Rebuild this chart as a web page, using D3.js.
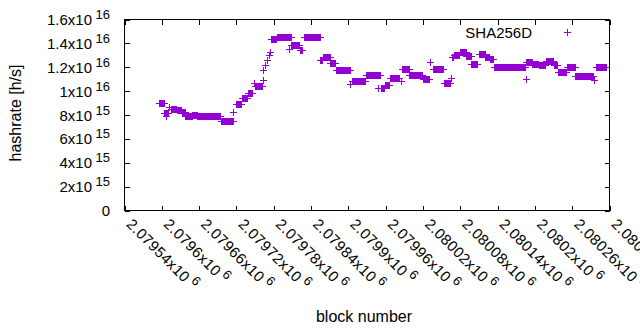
<!DOCTYPE html>
<html><head><meta charset="utf-8">
<script src="https://cdn.jsdelivr.net/npm/d3@7/dist/d3.min.js"></script>
<style>
body{margin:0;background:#fff;}
svg{display:block;}
text{font-family:"Liberation Sans",Arial,Helvetica,sans-serif;fill:#000;}
</style>
</head><body>
<svg id="chart" width="640" height="330"></svg>
<script>
// ---- data (hashrate in units of 1e15 h/s, constant over block runs) ----
const seriesName = "SHA256D";
const runStart = [2079595,2079604,2079607,2079612,2079614,2079624,2079632,2079638,2079644,2079649,2079657,2079695,2079715,2079720,2079729,2079738,2079749,2079750,2079762,2079763,2079766,2079769,2079772,2079774,2079775,2079785,2079792,2079804,2079808,2079822,2079828,2079855,2079860,2079871,2079880,2079903,2079906,2079928,2079948,2079952,2079959,2079967,2079984,2079986,2079998,2080020,2080032,2080036,2080054,2080065,2080066,2080070,2080079,2080090,2080098,2080110,2080120,2080128,2080135,2080147,2080185,2080186,2080196,2080206,2080218,2080230,2080237,2080252,2080265,2080295,2080299];
const runEnd   = [2079603,2079610,2079607,2079612,2079623,2079631,2079637,2079643,2079648,2079656,2079693,2079714,2079715,2079728,2079737,2079745,2079749,2079761,2079762,2079763,2079766,2079769,2079772,2079774,2079784,2079791,2079807,2079804,2079821,2079826,2079854,2079858,2079870,2079879,2079902,2079903,2079927,2079951,2079948,2079958,2079966,2079982,2079984,2079997,2080019,2080029,2080032,2080053,2080063,2080065,2080069,2080078,2080089,2080097,2080107,2080119,2080127,2080133,2080146,2080184,2080185,2080195,2080205,2080217,2080229,2080235,2080250,2080264,2080294,2080295,2080314];
const runValue = [8.98,8.13,7.9,8.67,8.53,8.39,8.21,7.93,7.89,8.03,7.89,7.48,8.25,8.92,9.39,9.81,10.69,10.46,10.92,11.75,12.17,12.58,13.0,13.25,14.39,14.52,14.56,13.5,13.86,13.44,14.56,12.58,12.89,12.39,11.73,10.58,10.81,11.33,10.29,10.25,10.5,11.06,10.83,11.89,11.39,11.03,12.44,11.89,10.64,11.13,12.83,13.0,13.28,12.97,12.31,13.08,12.89,12.73,12.06,11.98,10.98,12.48,12.31,12.17,12.5,12.17,11.61,11.98,11.28,10.92,12.03];

const xDomain = [2079540, 2080320];
const yDomain = [0, 1.6e16];
const xTickValues = [2079540,2079600,2079660,2079720,2079780,2079840,2079900,2079960,2080020,2080080,2080140,2080200,2080260,2080320];
const xTickMantissa = ["2.07954","2.0796","2.07966","2.07972","2.07978","2.07984","2.0799","2.07996","2.08002","2.08008","2.08014","2.0802","2.08026","2.08032"];
const xTickExponent = ["6","6","6","6","6","6","6","6","6","6","6","6","6","6"];
const yTickValues = [0,2e15,4e15,6e15,8e15,1e16,1.2e16,1.4e16,1.6e16];
const yTickMantissa = ["0","2","4","6","8","1","1.2","1.4","1.6"];
const yTickExponent = ["","15","15","15","15","16","16","16","16"];
const xTitle = "block number";
const yTitle = "hashrate [h/s]";
const color = "#9400d3";

// ---- build point table from runs ----
const points = [];
runStart.forEach((s, i) => {
  for (let b = s; b <= runEnd[i]; b++) points.push({block: b, value: runValue[i] * 1e15});
});

const svg = d3.select("#chart");
const L = 124.5, R = 609.5, T = 19.5, B = 210.5;
const x = d3.scaleLinear().domain(xDomain).range([L, R]);
const y = d3.scaleLinear().domain(yDomain).range([B, T]);
const tickLen = 5;

// axes (inward ticks, mirrored), via d3 axis generators
const axB = svg.append("g").attr("transform", `translate(0,${B})`)
  .call(d3.axisBottom(x).tickValues(xTickValues).tickSizeInner(-tickLen).tickSizeOuter(0).tickFormat(""));
const axT = svg.append("g").attr("transform", `translate(0,${T})`)
  .call(d3.axisTop(x).tickValues(xTickValues).tickSizeInner(-tickLen).tickSizeOuter(0).tickFormat(""));
const axL = svg.append("g").attr("transform", `translate(${L},0)`)
  .call(d3.axisLeft(y).tickValues(yTickValues).tickSizeInner(-tickLen).tickSizeOuter(0).tickFormat(""));
const axR = svg.append("g").attr("transform", `translate(${R},0)`)
  .call(d3.axisRight(y).tickValues(yTickValues).tickSizeInner(-tickLen).tickSizeOuter(0).tickFormat(""));
[axB, axT, axL, axR].forEach(g => {
  g.select(".domain").remove();
  g.selectAll("line").attr("stroke", "#000").attr("shape-rendering", "crispEdges");
});
// frame
svg.append("rect").attr("x", L).attr("y", T).attr("width", R - L).attr("height", B - T)
  .attr("fill", "none").attr("stroke", "#000").attr("stroke-width", 1).attr("shape-rendering", "crispEdges");

// y tick labels
yTickValues.forEach((v, i) => {
  const t = svg.append("text").attr("x", 110).attr("y", y(v) + 5.5)
    .attr("text-anchor", "end").attr("font-size", 15).text(yTickMantissa[i] + (yTickExponent[i] ? "x10" : ""));
  if (yTickExponent[i]) {
    t.append("tspan").attr("dx", 3.5).attr("dy", -6).attr("font-size", 13).text(yTickExponent[i]);
  }
});
// x tick labels, rotated
xTickValues.forEach((v, i) => {
  const t = svg.append("text").attr("transform", `translate(${x(v) + 1},225) rotate(45)`)
    .attr("text-anchor", "start").attr("font-size", 15).attr("letter-spacing", 0.4)
    .text(xTickMantissa[i] + "x10");
  t.append("tspan").attr("dx", 3.5).attr("dy", -6).attr("font-size", 13).text(xTickExponent[i]);
});

// titles
svg.append("text").attr("x", (L + R) / 2 - 3).attr("y", 322).attr("text-anchor", "middle")
  .attr("font-size", 16).text(xTitle);
svg.append("text").attr("transform", `translate(21,113) rotate(-90)`).attr("text-anchor", "middle")
  .attr("font-size", 16).text(yTitle);

// plus markers
const plus = (cx, cy) => `M${cx - 3.5},${cy}H${cx + 3.5}M${cx},${cy - 3.5}V${cy + 3.5}`;
svg.append("g").selectAll("path").data(points).join("path")
  .attr("d", d => plus(Math.round(x(d.block)) + 0.5, Math.round(y(d.value)) + 0.5))
  .attr("stroke", color).attr("stroke-width", 1).attr("fill", "none").attr("shape-rendering", "crispEdges");

// legend
svg.append("text").attr("x", 532).attr("y", 37.5).attr("text-anchor", "end").attr("font-size", 15).text(seriesName);
svg.append("path").attr("d", plus(567.5, 32.5)).attr("stroke", color).attr("stroke-width", 1)
  .attr("fill", "none").attr("shape-rendering", "crispEdges");
</script>
</body></html>
